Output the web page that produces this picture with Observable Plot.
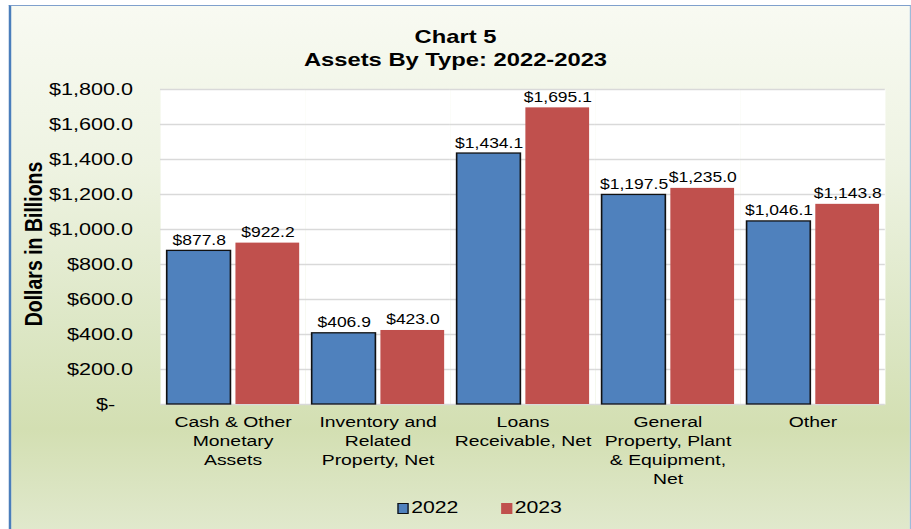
<!DOCTYPE html>
<html>
<head>
<meta charset="utf-8">
<script src="https://cdn.jsdelivr.net/npm/d3@7"></script>
<script src="https://cdn.jsdelivr.net/npm/@observablehq/plot@0.6"></script>
<style>
  html, body { margin: 0; padding: 0; background: #ffffff; overflow: hidden; }
  #wrap { position: absolute; left: 0; top: 0; width: 729px; height: 529px;
          transform: scaleX(1.2497); transform-origin: 0 0;
          font-family: Arial, "Liberation Sans", sans-serif; }
  #box { position: absolute; left: 7px; top: 5px; width: 722px; height: 530px; box-sizing: border-box;
         border-left: 2px solid #4a7ebb; border-top: 1.5px solid #7fa0cc; border-right: 1.5px solid #9dbbd9;
         background: linear-gradient(to bottom, #f8faf2 0%, #eef3e2 30%, #dde7c6 60%, #d3dfb2 80%, #e1e9ce 100%); }
  #title { position: absolute; left: 0; top: 25px; width: 729px; text-align: center;
           font-weight: bold; font-size: 19px; line-height: 23px; color: #000; }
  #ytitle { position: absolute; left: 26.5px; top: 244px; transform: translate(-50%, -50%) rotate(-90deg);
            white-space: nowrap; font-weight: bold; font-size: 19.5px; color: #000; }
  #legend { position: absolute; left: 318px; top: 498px; display: flex; align-items: center;
            font-size: 17px; line-height: 20px; color: #000; }
  .sw { display: inline-block; width: 9px; height: 11px; box-sizing: border-box; margin-right: 2px; }
  .item { display: flex; align-items: center; margin-right: 34px; }
  #plot { position: absolute; left: 0; top: 0; }
</style>
</head>
<body>
<div id="wrap">
  <div id="box"></div>
  <div id="title">Chart 5<br>Assets By Type: 2022-2023</div>
  <div id="plot"></div>
  <div id="ytitle">Dollars in Billions</div>
  <div id="legend"></div>
</div>
<script>
// ---- data ----
const categories = [
  "Cash & Other Monetary Assets",
  "Inventory and Related Property, Net",
  "Loans Receivable, Net",
  "General Property, Plant & Equipment, Net",
  "Other"
];
const categoryLabels = [
  "Cash & Other\nMonetary\nAssets",
  "Inventory and\nRelated\nProperty, Net",
  "Loans\nReceivable, Net",
  "General\nProperty, Plant\n& Equipment,\nNet",
  "Other"
];
const years = ["2022", "2023"];
const values2022 = [877.8, 406.9, 1434.1, 1197.5, 1046.1];
const values2023 = [922.2, 423.0, 1695.1, 1235.0, 1143.8];
const yTicks = [0, 200, 400, 600, 800, 1000, 1200, 1400, 1600, 1800];
const colors = ["#4f81bd", "#c0504d"];

// ---- build table ----
const data = [];
categories.forEach((c, i) => {
  data.push({cat: c, year: years[0], value: values2022[i]});
  data.push({cat: c, year: years[1], value: values2023[i]});
});
const labelOf = new Map(categories.map((c, i) => [c, categoryLabels[i]]));
const money = d3.format(",.1f");
const yFmt = d => d === 0 ? "$-\u00A0\u00A0\u00A0" : "$" + money(d);

const chart = Plot.plot({
  width: 729,
  height: 529,
  marginLeft: 125.6,
  marginRight: 18.6,
  marginTop: 89,
  marginBottom: 125,
  style: {fontFamily: "Arial, 'Liberation Sans', sans-serif", background: "transparent", overflow: "visible", color: "#000"},
  fx: {domain: categories, padding: 0, label: null},
  x: {domain: years, paddingInner: 0.072, paddingOuter: 0.088, axis: null},
  y: {domain: [0, 1800], label: null},
  color: {domain: years, range: colors},
  marks: [
    Plot.frame({fill: "white", stroke: "none"}),
    Plot.gridY(yTicks, {stroke: "#d9d9d9", strokeOpacity: 1, strokeWidth: 1.5}),
    Plot.barY(data.filter(d => d.year === years[0]), {fx: "cat", x: "year", y: "value", fill: "year", stroke: "#111", strokeWidth: 1.3}),
    Plot.barY(data.filter(d => d.year === years[1]), {fx: "cat", x: "year", y: "value", fill: "year"}),
    Plot.text(data, {fx: "cat", x: "year", y: "value", text: d => "$" + money(d.value),
      lineAnchor: "bottom", dy: -6, fontSize: 14, fill: "#000"}),
    Plot.axisY(yTicks, {tickSize: 0, tickPadding: 22, tickFormat: yFmt, fontSize: 17.3, label: null}),
    Plot.axisFx({anchor: "bottom", tickSize: 0, tickPadding: 9, fontSize: 15.5, lineHeight: 1.22,
      tickFormat: c => labelOf.get(c), label: null})
  ]
});
document.getElementById("plot").appendChild(chart);

// legend
const legend = document.getElementById("legend");
years.forEach((y, i) => {
  const item = document.createElement("div");
  item.className = "item";
  const sw = document.createElement("span");
  sw.className = "sw";
  sw.style.background = colors[i];
  if (i === 0) sw.style.border = "1px solid #111";
  const t = document.createElement("span");
  t.textContent = y;
  item.appendChild(sw);
  item.appendChild(t);
  legend.appendChild(item);
});
</script>
</body>
</html>
